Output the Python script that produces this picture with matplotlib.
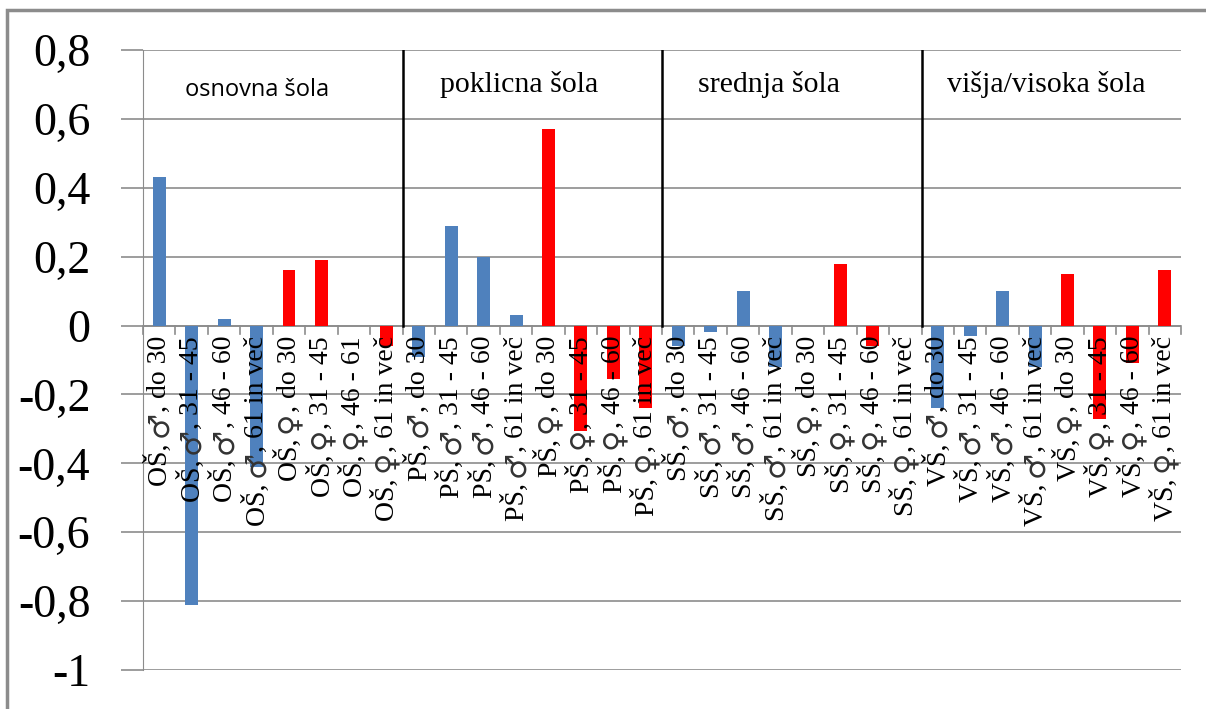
import numpy as np
import matplotlib.pyplot as plt
from matplotlib.patches import Rectangle

# groups and age brackets
groups = ['OŠ', 'PŠ', 'SŠ', 'VŠ']
group_titles = ['osnovna šola', 'poklicna šola', 'srednja šola', 'višja/visoka šola']
male_ages = ['do 30', '31 - 45', '46 - 60', '61 in več']
female_ages_os = ['do 30', '31 - 45', '46 - 61', '61 in več']
female_ages = ['do 30', '31 - 45', '46 - 60', '61 in več']

# values per group: 4 male then 4 female
os_vals = [0.43, -0.81, 0.02, -0.41, 0.16, 0.19, 0.0, -0.06]
ps_vals = [-0.09, 0.29, 0.20, 0.03, 0.57, -0.305, -0.155, -0.24]
ss_vals = [-0.06, -0.02, 0.10, -0.12, 0.0, 0.18, -0.06, 0.0]
vs_vals = [-0.24, -0.03, 0.10, -0.12, 0.15, -0.27, -0.11, 0.16]

values = os_vals + ps_vals + ss_vals + vs_vals
parts = []   # (prefix, symbol, suffix)
colors = []
for g in groups:
    fa = female_ages_os if g == 'OŠ' else female_ages
    for a in male_ages:
        parts.append((g + ', ', '♂', ', ' + a))
        colors.append('#4F81BD')
    for a in fa:
        parts.append((g + ', ', '♀', ', ' + a))
        colors.append('#FF0000')

serif = ['Liberation Serif', 'DejaVu Serif']

fig = plt.figure(figsize=(12.06, 7.09), dpi=100)
ax = fig.add_axes([0.1186, 0.055, 0.8607, 0.8745])

x = np.arange(len(values))
ax.bar(x, values, width=0.4, color=colors, zorder=3)

ax.set_xlim(-0.5, len(values) - 0.5)
ax.set_ylim(-1, 0.8)
yt = np.arange(-1, 0.81, 0.2)
ytl = []
for v in yt:
    v = round(v, 1)
    ytl.append('0' if v == 0 else ('%g' % v).replace('.', ','))
ax.set_yticks(yt)
ax.set_yticklabels(ytl, family=serif, fontsize=33)
ax.yaxis.grid(True, color='#8c8c8c', linewidth=1.2, zorder=0)
ax.tick_params(axis='y', length=16, color='#8c8c8c', width=1.2, pad=22)
ax.set_xticks([])

for s in ['top', 'right', 'bottom']:
    ax.spines[s].set_visible(False)
ax.spines['left'].set_color('#8c8c8c')

# zero axis line with boundary ticks
ax.axhline(0, color='#8c8c8c', linewidth=1.2, zorder=2)
for b in np.arange(-0.5, len(values), 1.0):
    ax.plot([b, b], [0, -0.025], color='#8c8c8c', linewidth=1.2, zorder=2, clip_on=False)

# category labels along the zero line, stacked top-down: suffix, symbol, prefix
renderer = fig.canvas.get_renderer()
for xi, (pre, sym, suf) in zip(x, parts):
    y_disp = ax.transData.transform((xi, -0.03))[1]
    for piece, fam, fs, col in [(suf, serif, 20, 'black'),
                                (sym, ['DejaVu Sans'], 21, '#333333'),
                                (pre, serif, 20, 'black')]:
        xd = ax.transData.transform((xi, 0))[0]
        t = fig.text(xd / fig.dpi / fig.get_figwidth(), y_disp / fig.dpi / fig.get_figheight(),
                     piece, rotation=90, ha='center', va='top', family=fam,
                     fontsize=fs, color=col, zorder=4)
        bb = t.get_window_extent(renderer)
        y_disp = bb.y0 + 1

# group separators and titles
for i in range(1, 4):
    ax.plot([8 * i - 0.5] * 2, [0, 0.8], color='black', linewidth=1.8, zorder=4)
title_x = [3.0, 11.1, 18.8, 27.35]
for i, t in enumerate(group_titles):
    fam = ['Open Sans', 'DejaVu Sans'] if i == 0 else serif
    fs = 17 if i == 0 else 21.5
    ty = 0.685 if i == 0 else 0.70
    ax.text(title_x[i], ty, t, ha='center', va='center', family=fam, fontsize=fs)

# outer chart frame
fig.patches.append(Rectangle((0.006, -0.1), 1.2, 1.086, transform=fig.transFigure,
                             fill=False, edgecolor='#8c8c8c', linewidth=2.5))

fig.savefig('out.png', dpi=100)
